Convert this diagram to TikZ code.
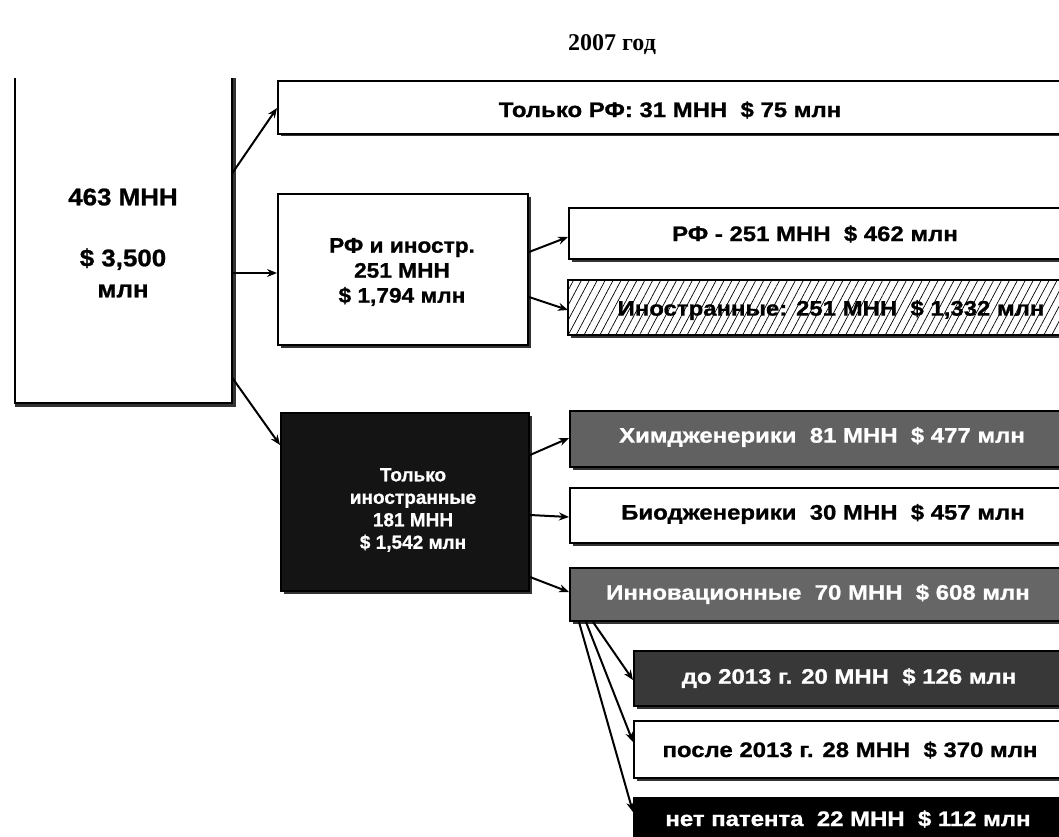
\documentclass[tikz,border=0pt]{standalone}
\usepackage{fontspec}
\setmainfont{Liberation Sans}
\newfontfamily\seriffont{Liberation Serif}
\newfontfamily\widefont[FakeStretch=1.14, BoldFeatures={FakeBold=1}]{Liberation Sans}
\newfontfamily\midfont[FakeStretch=1.08, BoldFeatures={FakeBold=1}]{Liberation Sans}
\newfontfamily\normfont[BoldFeatures={FakeBold=0.8}]{Liberation Sans}
\usetikzlibrary{calc,arrows.meta,shadows,patterns.meta}
\begin{document}
\begin{tikzpicture}[x=1pt,y=-1pt,
  bx/.style={draw=black, line width=2pt, anchor=north west, inner sep=0pt,
    drop shadow={shadow xshift=2.5pt, shadow yshift=-2.5pt, fill=black!80, opacity=1}},
  lbl/.style={font=\widefont\bfseries\fontsize{21}{25}\selectfont, align=center, inner sep=0pt},
  wlbl/.style={lbl, text=white},
  arr/.style={line width=2pt, -{Stealth[length=10pt,width=8pt]}}
]
\clip (0,0) rectangle (1059,837);
\fill[white] (0,0) rectangle (1059,837);

% title
\node[font=\seriffont\bfseries\fontsize{24}{28}\selectfont] (title) at (612,45) {2007 год};

% main box (open at the top)
\node[anchor=north west, minimum width=217pt, minimum height=325pt, inner sep=0pt] (main) at (15,78) {};
\fill[black!80] ([xshift=1pt]main.north east) rectangle ([xshift=3.5pt,yshift=-3.5pt]main.south east);
\fill[black!80] ([yshift=-1pt]main.south west) rectangle ([xshift=3.5pt,yshift=-3.5pt]main.south east);
\draw[line width=2pt] (main.north west) -- (main.south west) -- (main.south east) -- (main.north east);
\node[lbl, font=\midfont\bfseries\fontsize{24}{31}\selectfont] (maintext) at (123,243) {463 МНН\\[30pt]\$ 3,500\\млн};

% level 1
\node[bx, fill=white, minimum width=800pt, minimum height=53pt] (tolko) at (277,80) {};
\node[lbl] at (670,110) {Только РФ: 31 МНН\ \ \$ 75 млн};

\node[bx, fill=white, minimum width=250pt, minimum height=151pt] (rfin) at (277,193) {};
\node[lbl, font=\midfont\bfseries\fontsize{21}{25}\selectfont] at (402,272) {РФ и иностр.\\251 МНН\\\$ 1,794 млн};

\node[bx, fill=black!92, minimum width=248pt, minimum height=178pt] (toin) at (280,412) {};
\node[wlbl, font=\normfont\bfseries\fontsize{19}{22.5}\selectfont] at (413,510) {Только\\иностранные\\181 МНН\\\$ 1,542 млн};

% level 2
\node[bx, fill=white, minimum width=520pt, minimum height=51pt] (rf251) at (568,207) {};
\node[lbl] at (815,234) {РФ - 251 МНН\ \ \$ 462 млн};

\node[bx, preaction={fill=white}, pattern={Lines[angle=62,distance=7pt,line width=0.7pt]}, minimum width=520pt, minimum height=55pt] (inos) at (568,280) {};
\node[lbl] at (831,310) {Иностранные: 251 МНН\ \ \$ 1,332 млн};

\node[bx, fill=black!62, minimum width=520pt, minimum height=56pt] (him) at (569,410) {};
\node[wlbl] at (822,437) {Химдженерики\ \ 81 МНН\ \ \$ 477 млн};

\node[bx, fill=white, minimum width=520pt, minimum height=55pt] (bio) at (569,487) {};
\node[lbl] at (823,514) {Биодженерики\ \ 30 МНН\ \ \$ 457 млн};

\node[bx, fill=black!60, minimum width=520pt, minimum height=53pt] (inn) at (569,567) {};
\node[wlbl] at (818,594) {Инновационные\ \ 70 МНН\ \ \$ 608 млн};

% level 3
\node[bx, fill=black!78, minimum width=450pt, minimum height=55pt] (do) at (633,650) {};
\node[wlbl] at (849,678) {до 2013 г. 20 МНН\ \ \$ 126 млн};

\node[bx, fill=white, minimum width=450pt, minimum height=57pt] (posle) at (633,720) {};
\node[lbl] at (850,750) {после 2013 г. 28 МНН\ \ \$ 370 млн};

\node[bx, fill=black, minimum width=450pt, minimum height=60pt] (net) at (633,797) {};
\node[wlbl] at (848,819) {нет патента\ \ 22 МНН\ \ \$ 112 млн};

% connectors
\draw[arr] ($(main.north east)+(0,95)$) -- ($(tolko.north west)+(0,28)$);
\draw[arr] ($(main.north east)+(0,195)$) -- ($(rfin.north west)+(0,80)$);
\draw[arr] ($(main.north east)+(0,300)$) -- ($(toin.north west)+(0,33)$);
\draw[arr] ($(rfin.north east)+(0,59)$) -- ($(rf251.north west)+(0,30)$);
\draw[arr] ($(rfin.north east)+(0,104)$) -- ($(inos.north west)+(0,30)$);
\draw[arr] ($(toin.north east)+(0,43)$) -- ($(him.north west)+(0,28)$);
\draw[arr] ($(toin.north east)+(0,103)$) -- ($(bio.north west)+(0,30)$);
\draw[arr] ($(toin.north east)+(0,165)$) -- ($(inn.north west)+(0,25)$);
\draw[arr] ($(inn.south west)+(24,0)$) -- ($(do.north west)+(0,30)$);
\draw[arr] ($(inn.south west)+(17,0)$) -- ($(posle.north west)+(0,22)$);
\draw[arr] ($(inn.south west)+(10,0)$) -- ($(net.north west)+(0,15)$);
\end{tikzpicture}
\end{document}
